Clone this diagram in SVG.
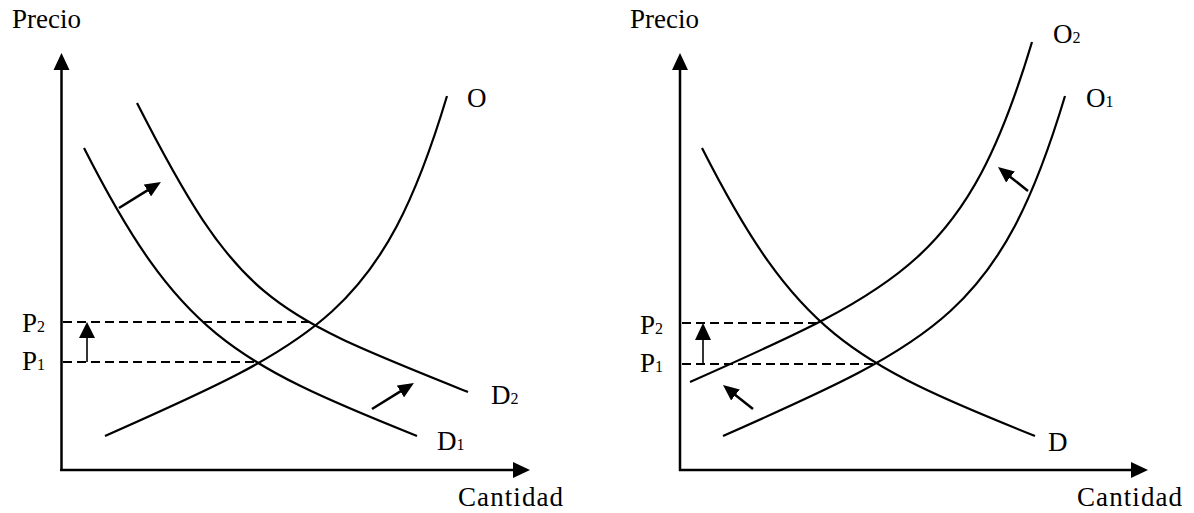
<svg xmlns="http://www.w3.org/2000/svg" width="1194" height="513" viewBox="0 0 1194 513">
<defs>
<marker id="ah" markerUnits="userSpaceOnUse" markerWidth="16" markerHeight="14" refX="1" refY="7" orient="auto" viewBox="0 0 16 14">
<path d="M0,0 L16,7 L0,14 Z" fill="#000"/>
</marker>
</defs>
<style>
text{font-family:"Liberation Serif","Times New Roman",serif;font-size:27px;fill:#000}
.sub{font-size:16px}
.axis{stroke:#000;stroke-width:2.5;fill:none}
.curve{stroke:#000;stroke-width:2.2;fill:none}
.dash{stroke:#000;stroke-width:2;stroke-dasharray:9 5;fill:none}
.stem{stroke:#000;stroke-width:1.6;fill:none}
.shift{stroke:#000;stroke-width:2.5;fill:none;marker-end:url(#ah)}
.head{fill:#000}
</style>
<rect width="1194" height="513" fill="#fff"/>

<g id="left-panel">
  <g id="left-axes">
    <line class="axis" x1="61.5" y1="471" x2="61.5" y2="68"/>
    <polygon class="head" points="61.5,53 53.5,70 69.5,70"/>
    <line class="axis" x1="60" y1="470" x2="515" y2="470"/>
    <polygon class="head" points="530,470 513,462 513,478"/>
    <text x="12" y="28">Precio</text>
    <text x="458" y="506" textLength="105" lengthAdjust="spacing">Cantidad</text>
  </g>
  <g id="left-guides">
    <line class="dash" x1="63" y1="322" x2="315" y2="322"/>
    <line class="dash" x1="63" y1="362" x2="259" y2="362"/>
    <line class="stem" x1="87" y1="362" x2="87" y2="337"/>
    <polygon class="head" points="87,322 79,338 95,338"/>
    <text x="22" y="332">P<tspan class="sub">2</tspan></text>
    <text x="22" y="370">P<tspan class="sub">1</tspan></text>
  </g>
  <g id="curve-O">
    <path class="curve" d="M105,436 C320,341 382.5,311 447,96"/>
    <text x="467" y="107">O</text>
  </g>
  <g id="curve-D1">
    <path class="curve" d="M84,148 C178,333 232,362 417,436"/>
    <text x="437" y="450">D<tspan class="sub">1</tspan></text>
  </g>
  <g id="curve-D2">
    <path class="curve" d="M137,103 C239,303 268,312 468,392"/>
    <text x="491" y="404">D<tspan class="sub">2</tspan></text>
  </g>
</g>

<g id="right-panel">
  <g id="right-axes">
    <line class="axis" x1="680" y1="471" x2="680" y2="68"/>
    <polygon class="head" points="680,53 672,70 688,70"/>
    <line class="axis" x1="679" y1="470" x2="1133" y2="470"/>
    <polygon class="head" points="1148,470 1131,462 1131,478"/>
    <text x="630" y="28">Precio</text>
    <text x="1077" y="506" textLength="105" lengthAdjust="spacing">Cantidad</text>
  </g>
  <g id="right-guides">
    <line class="dash" x1="682" y1="323" x2="822" y2="323"/>
    <line class="dash" x1="682" y1="364" x2="878" y2="364"/>
    <line class="stem" x1="703" y1="364" x2="703" y2="339"/>
    <polygon class="head" points="703,323 695,340 711,340"/>
    <text x="640" y="334">P<tspan class="sub">2</tspan></text>
    <text x="640" y="372">P<tspan class="sub">1</tspan></text>
  </g>
  <g id="curve-D">
    <path class="curve" d="M702,148 C796,333 850,362 1035,436"/>
    <text x="1048" y="451">D</text>
  </g>
  <g id="curve-O1">
    <path class="curve" d="M723,436 C938,341 1000.5,311 1065,96"/>
    <text x="1086" y="107">O<tspan class="sub">1</tspan></text>
  </g>
  <g id="curve-O2">
    <path class="curve" d="M690,382 C905,287 967.5,257 1032,42"/>
    <text x="1053" y="43">O<tspan class="sub">2</tspan></text>
  </g>
</g>

<g id="connectors">
  <line class="shift" x1="119" y1="208" x2="148.2" y2="189.9"/>
  <line class="shift" x1="372" y1="409" x2="401.2" y2="390.9"/>
  <line class="shift" x1="1028" y1="191" x2="1009.7" y2="176.4"/>
  <line class="shift" x1="753" y1="409" x2="734.7" y2="394.4"/>
</g>
</svg>
